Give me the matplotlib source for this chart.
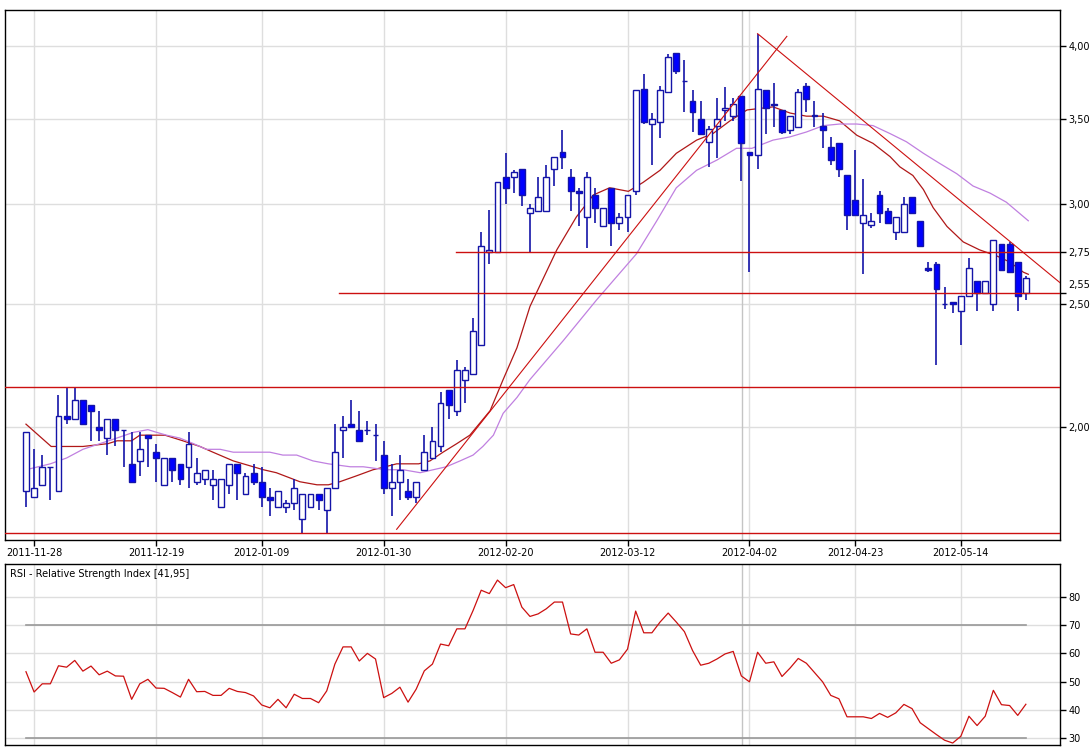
import matplotlib
matplotlib.use('Agg')
import matplotlib.pyplot as plt
from matplotlib.ticker import NullLocator, NullFormatter

plt.rcParams['font.family'] = ['DejaVu Sans']

# --- dane: notowania dzienne (indeks sesji 0 = 2011-11-25) ---
opens = [1.78, 1.76, 1.80, 1.86, 1.78, 2.04, 2.03, 2.10, 2.08, 2.00,
         1.96, 2.03, 1.99, 1.87, 1.88, 1.97, 1.91, 1.80, 1.89, 1.87,
         1.86, 1.81, 1.82, 1.80, 1.73, 1.80, 1.87, 1.77, 1.84, 1.81,
         1.76, 1.73, 1.73, 1.74, 1.69, 1.73, 1.77, 1.72, 1.79, 1.99,
         2.01, 1.99, 1.99, 1.97, 1.90, 1.79, 1.81, 1.78, 1.76, 1.85,
         1.89, 1.93, 2.14, 2.06, 2.18, 2.20, 2.32, 2.75, 2.75, 3.15,
         3.15, 3.20, 2.95, 2.96, 2.96, 3.20, 3.30, 3.15, 3.07, 2.93,
         3.05, 2.88, 3.09, 2.90, 2.93, 3.07, 3.70, 3.47, 3.48, 3.68,
         3.95, 3.75, 3.62, 3.50, 3.36, 3.46, 3.56, 3.52, 3.65, 3.30,
         3.28, 3.69, 3.60, 3.56, 3.43, 3.45, 3.72, 3.52, 3.46, 3.33,
         3.35, 3.16, 3.02, 2.90, 2.89, 3.05, 2.96, 2.85, 2.85, 3.04,
         2.91, 2.67, 2.69, 2.50, 2.51, 2.47, 2.54, 2.61, 2.55, 2.50,
         2.79, 2.79, 2.70, 2.55]
highs = [1.98, 1.92, 1.90, 1.86, 2.12, 2.15, 2.15, 2.10, 2.08, 2.06,
         2.03, 2.03, 1.99, 1.98, 1.98, 1.97, 1.94, 1.89, 1.89, 1.87,
         1.98, 1.89, 1.85, 1.85, 1.82, 1.87, 1.87, 1.84, 1.87, 1.86,
         1.79, 1.78, 1.75, 1.82, 1.77, 1.77, 1.77, 1.79, 2.01, 2.04,
         2.10, 2.06, 2.02, 2.01, 1.95, 1.87, 1.90, 1.82, 1.81, 1.97,
         2.00, 2.13, 2.14, 2.26, 2.23, 2.44, 2.85, 2.97, 3.12, 3.29,
         3.19, 3.20, 3.00, 3.15, 3.22, 3.27, 3.43, 3.20, 3.09, 3.18,
         3.09, 2.98, 3.09, 2.95, 3.05, 3.69, 3.80, 3.54, 3.72, 3.94,
         3.95, 3.90, 3.69, 3.62, 3.46, 3.64, 3.71, 3.64, 3.65, 3.30,
         4.09, 3.69, 3.74, 3.56, 3.52, 3.70, 3.74, 3.62, 3.54, 3.39,
         3.35, 3.16, 3.31, 3.14, 2.95, 3.07, 2.98, 2.93, 3.04, 3.04,
         2.91, 2.70, 2.70, 2.58, 2.51, 2.54, 2.72, 2.61, 2.61, 2.81,
         2.79, 2.80, 2.70, 2.63]
lows = [1.73, 1.76, 1.80, 1.75, 1.78, 2.01, 2.03, 2.01, 1.95, 1.95,
        1.90, 1.93, 1.86, 1.81, 1.83, 1.86, 1.81, 1.80, 1.81, 1.80,
        1.79, 1.80, 1.80, 1.75, 1.73, 1.77, 1.75, 1.77, 1.80, 1.73,
        1.70, 1.73, 1.71, 1.72, 1.65, 1.73, 1.72, 1.65, 1.79, 1.89,
        2.00, 1.95, 1.97, 1.88, 1.77, 1.70, 1.75, 1.75, 1.74, 1.85,
        1.89, 1.91, 2.03, 2.04, 2.09, 2.20, 2.32, 2.69, 2.75, 3.00,
        3.06, 2.99, 2.75, 2.96, 2.96, 3.10, 3.20, 2.96, 2.88, 2.77,
        2.90, 2.88, 2.78, 2.86, 2.85, 3.05, 3.47, 3.22, 3.38, 3.68,
        3.80, 3.55, 3.42, 3.41, 3.21, 3.26, 3.49, 3.49, 3.13, 2.65,
        3.20, 3.41, 3.45, 3.41, 3.41, 3.45, 3.55, 3.45, 3.32, 3.22,
        3.15, 2.86, 2.94, 2.64, 2.87, 2.90, 2.90, 2.81, 2.85, 2.95,
        2.78, 2.65, 2.24, 2.48, 2.46, 2.32, 2.54, 2.47, 2.55, 2.47,
        2.66, 2.65, 2.47, 2.52]
closes = [1.98, 1.79, 1.86, 1.86, 2.04, 2.03, 2.10, 2.01, 2.06, 1.99,
          2.03, 1.99, 1.99, 1.81, 1.92, 1.96, 1.89, 1.89, 1.85, 1.82,
          1.94, 1.84, 1.85, 1.82, 1.82, 1.87, 1.84, 1.83, 1.81, 1.76,
          1.75, 1.78, 1.74, 1.79, 1.77, 1.77, 1.75, 1.79, 1.91, 2.00,
          2.00, 1.95, 1.99, 1.97, 1.79, 1.81, 1.85, 1.76, 1.81, 1.91,
          1.95, 2.09, 2.08, 2.22, 2.22, 2.38, 2.78, 2.76, 3.12, 3.09,
          3.18, 3.05, 2.98, 3.04, 3.15, 3.27, 3.27, 3.07, 3.06, 3.15,
          2.98, 2.98, 2.90, 2.93, 3.05, 3.69, 3.48, 3.50, 3.69, 3.92,
          3.82, 3.75, 3.55, 3.41, 3.44, 3.50, 3.57, 3.60, 3.35, 3.28,
          3.70, 3.57, 3.59, 3.42, 3.52, 3.68, 3.63, 3.53, 3.43, 3.25,
          3.20, 2.94, 2.94, 2.94, 2.91, 2.95, 2.90, 2.93, 3.00, 2.95,
          2.78, 2.66, 2.57, 2.50, 2.50, 2.54, 2.67, 2.55, 2.61, 2.81,
          2.66, 2.65, 2.54, 2.62]

# srednie kroczace (pozycja sesji, wartosc)
ma_red_x = [0, 3.1, 7.0, 10.1, 11.2, 13.0, 14.0, 15.0, 17.1, 19.3, 21.4, 23.0,
            25.5, 29.2, 30.8, 33.7, 35.8, 37.2, 38.6, 40.7, 42.7, 44.2, 45.6,
            48.3, 49.7, 51.3, 53.0, 54.6, 57.1, 58.7, 60.4, 62.0, 65.3, 67.7,
            69.8, 71.8, 74.1, 75.9, 78.0, 80.0, 82.5, 84.5, 86.6, 88.7, 91.9,
            94.0, 96.0, 98.1, 100.1, 102.2, 104.2, 106.3, 107.5, 109.1, 110.4,
            111.6, 113.3, 115.3, 117.3, 119.4, 121.0, 122.7, 123.3]
ma_red_y = [2.01, 1.93, 1.93, 1.94, 1.95, 1.95, 1.97, 1.97, 1.97, 1.95, 1.93, 1.91,
            1.88, 1.85, 1.84, 1.81, 1.80, 1.80, 1.81, 1.83, 1.85, 1.86, 1.87,
            1.87, 1.88, 1.91, 1.94, 1.97, 2.06, 2.18, 2.31, 2.49, 2.76, 2.93,
            3.05, 3.09, 3.07, 3.12, 3.19, 3.29, 3.37, 3.41, 3.49, 3.56, 3.58,
            3.54, 3.52, 3.52, 3.49, 3.40, 3.35, 3.27, 3.21, 3.16, 3.08,
            2.98, 2.88, 2.80, 2.76, 2.73, 2.70, 2.65, 2.64]
ma_violet_x = [0, 3.0, 5.0, 7.0, 9.1, 11.2, 13.2, 15.0, 16.1, 17.3, 18.9, 20.6,
               22.2, 23.9, 25.5, 27.1, 28.8, 30.0, 31.6, 33.3, 35.3, 37.2, 39.9,
               41.5, 44.2, 46.4, 48.5, 50.1, 51.7, 53.4, 55.0, 56.2, 57.5, 58.7,
               60.4, 62.0, 66.1, 70.2, 72.7, 75.1, 77.6, 80.0, 82.5, 85.0, 87.4,
               89.3, 91.9, 94.0, 96.0, 98.1, 100.1, 102.2, 104.2, 106.3, 108.3,
               110.4, 112.4, 114.5, 116.5, 118.6, 120.6, 123.3]
ma_violet_y = [1.85, 1.87, 1.89, 1.92, 1.94, 1.96, 1.98, 1.99, 1.98, 1.97, 1.96, 1.94,
               1.92, 1.92, 1.91, 1.91, 1.91, 1.91, 1.90, 1.90, 1.88, 1.87, 1.86,
               1.86, 1.85, 1.85, 1.84, 1.85, 1.86, 1.88, 1.90, 1.93, 1.97, 2.05,
               2.11, 2.18, 2.34, 2.52, 2.63, 2.74, 2.91, 3.09, 3.19, 3.25, 3.32,
               3.32, 3.37, 3.39, 3.42, 3.46, 3.47, 3.47, 3.46, 3.41, 3.36,
               3.29, 3.23, 3.17, 3.10, 3.06, 3.01, 2.91]

rsi = [53.5, 46.3, 49.2, 49.2, 55.6, 55.1, 57.5, 53.7, 55.5, 52.4,
       53.7, 52.0, 51.9, 43.7, 49.2, 50.8, 47.7, 47.6, 46.1, 44.5,
       50.8, 46.4, 46.5, 45.1, 45.1, 47.6, 46.5, 46.1, 44.9, 41.7,
       40.7, 43.7, 40.7, 45.5, 44.0, 44.0, 42.5, 46.7, 56.2, 62.3,
       62.3, 57.3, 60.0, 58.0, 44.3, 45.8, 48.0, 42.7, 47.3, 53.8,
       56.2, 63.3, 62.7, 68.7, 68.7, 75.2, 82.4, 81.2, 86.0, 83.3,
       84.4, 76.4, 73.1, 74.0, 75.8, 78.2, 78.2, 66.9, 66.5, 68.7,
       60.4, 60.4, 56.5, 57.7, 61.5, 75.0, 67.3, 67.3, 71.1, 74.3,
       71.1, 67.7, 61.0, 55.8, 56.5, 58.0, 59.8, 60.7, 52.0, 49.9,
       60.4, 56.5, 57.0, 51.8, 54.8, 58.2, 56.5, 53.2, 49.9, 45.1,
       43.9, 37.5, 37.5, 37.5, 36.9, 38.7, 37.3, 38.9, 41.9, 40.4,
       35.4, 33.3, 31.2, 29.2, 28.2, 30.6, 37.7, 34.4, 37.7, 46.9,
       41.8, 41.5, 38.0, 41.95]

tick_pos = [1, 16, 29, 44, 59, 74, 89, 102, 115]
tick_dates = ['2011-11-28', '2011-12-19', '2012-01-09', '2012-01-30', '2012-02-20',
              '2012-03-12', '2012-04-02', '2012-04-23', '2012-05-14']

price_ticks = [2.00, 2.50, 2.55, 2.75, 3.00, 3.50, 4.00]
price_grid = [2.00, 2.50, 3.00, 3.50, 4.00]

# linie wsparcia / oporu (poziom, poczatek)
levels = [2.75, 2.55, 2.15, 1.65]
level_start = [52.9, 38.5, None, None]

# linie trendu
trend_up = ([45.6, 93.6], [1.66, 4.07])
trend_down = ([90.0, 127.2], [4.09, 2.60])

XMIN, XMAX = -2.58, 127.2
EDGE = '#1414a8'
FILL = '#0000ff'
RED = '#cc1010'
GRID = '#dedede'

fig = plt.figure(figsize=(10.92, 7.5), dpi=100)
ax = fig.add_axes([5/1092, 1 - 540/750, 1055/1092, 530/750])
ax2 = fig.add_axes([5/1092, 1 - 745/750, 1055/1092, 181/750])

# ---- wykres glowny ----
ax.set_yscale('log')
ax.set_ylim(1.628, 4.27)
ax.set_xlim(XMIN, XMAX)

for p in price_grid:
    ax.axhline(p, color=GRID, lw=1, zorder=0)
for t in tick_pos:
    ax.axvline(t, color=GRID, lw=1, zorder=0)
ax.axvline(88.1, color='#c4c4c4', lw=1, zorder=0)

ax.plot(ma_red_x, ma_red_y, color='#b01818', lw=0.9, zorder=2)
ax.plot(ma_violet_x, ma_violet_y, color='#c080e0', lw=0.9, zorder=2)

n = len(closes)
for i in range(n):
    o, h, l, c = opens[i], highs[i], lows[i], closes[i]
    ax.vlines(i, l, h, color=EDGE, lw=1.2, zorder=3)
    fc = 'white' if c > o else FILL
    ax.bar(i, abs(c - o), bottom=min(o, c), width=0.72, facecolor=fc,
           edgecolor=EDGE, lw=1.0, zorder=4)

for lev, start in zip(levels, level_start):
    x0 = XMIN if start is None else start
    ax.plot([x0, XMAX], [lev, lev], color=RED, lw=1.0, zorder=5)

ax.plot(trend_up[0], trend_up[1], color=RED, lw=0.8, zorder=5)
ax.plot(trend_down[0], trend_down[1], color=RED, lw=0.8, zorder=5)

ax.yaxis.tick_right()
ax.set_yticks(price_ticks)
ax.set_yticklabels(['2,00', '2,50', '', '2,75', '3,00', '3,50', '4,00'])
ax.yaxis.set_minor_locator(NullLocator())
ax.yaxis.set_minor_formatter(NullFormatter())
ax.annotate('2,55', xy=(1, 2.55), xycoords=('axes fraction', 'data'),
            xytext=(5.7, 6.0), textcoords='offset points', va='center',
            ha='left', fontsize=7)
ax.set_xticks(tick_pos)
ax.set_xticklabels(tick_dates)
ax.tick_params(axis='both', labelsize=7, length=4, width=1, direction='out', pad=2)
for s in ax.spines.values():
    s.set_linewidth(1)

# ---- RSI ----
ax2.set_xlim(XMIN, XMAX)
ax2.set_ylim(27.5, 91.7)
for v in [30, 40, 50, 60, 70, 80]:
    ax2.axhline(v, color=GRID, lw=1, zorder=0)
for t in tick_pos:
    ax2.axvline(t, color=GRID, lw=1, zorder=0)
ax2.axvline(88.1, color='#c4c4c4', lw=1, zorder=0)
ax2.plot([0, n - 1], [70, 70], color='#999999', lw=1.2, zorder=1)
ax2.plot([0, n - 1], [30, 30], color='#999999', lw=1.2, zorder=1)
ax2.plot(range(n), rsi, color=RED, lw=0.9, zorder=3)

ax2.yaxis.tick_right()
ax2.set_yticks([30, 40, 50, 60, 70, 80])
ax2.set_xticks([])
ax2.tick_params(axis='y', labelsize=7, length=4, width=1, direction='out', pad=2)
ax2.text(0.0045, 0.947, 'RSI - Relative Strength Index [41,95]',
         transform=ax2.transAxes, fontsize=7, va='center', ha='left')
for s in ax2.spines.values():
    s.set_linewidth(1)

fig.savefig('out.png', dpi=100)
